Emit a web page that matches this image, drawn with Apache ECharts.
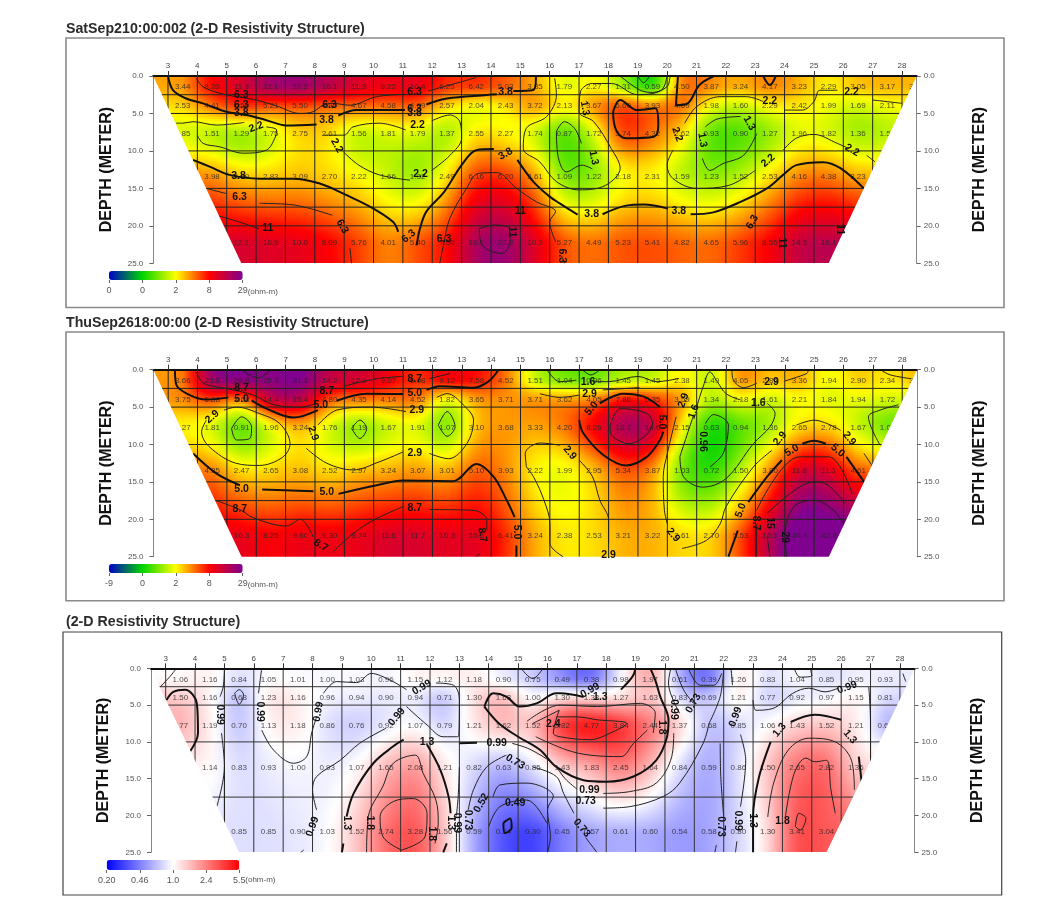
<!DOCTYPE html>
<html><head><meta charset="utf-8">
<script src="https://cdn.jsdelivr.net/npm/echarts@6/dist/echarts.min.js"></script>
<style>html,body{margin:0;padding:0;background:#fff}#chart{width:1047px;height:908px;filter:blur(0.45px)}</style>
</head><body><div id="chart"></div>
<script>
// ---------- shared categories and tick labels ----------
const electrodeLabels = [3,4,5,6,7,8,9,10,11,12,13,14,15,16,17,18,19,20,21,22,23,24,25,26,27,28];
const rowDepths = [1.5, 4, 7.75, 13.5, 22.2];
const rowBandEdges = [0, 2.5, 5, 10, 17.5, 25];
const rowStartColumn = [3.5, 3.5, 3.5, 4.5, 5.5];
const edgeTop = [2.5, 28.5];
const edgeBottom = [5.5, 25.5];
const titles = ['SatSep210:00:002 (2-D Resistivity Structure)','ThuSep2618:00:00 (2-D Resistivity Structure)','(2-D Resistivity Structure)'];
const scaleLabels1 = ['0','0','2','8','29'];
const scaleLabels2 = ['-9','0','2','8','29'];
const scaleLabels3 = ['0.20','0.46','1.0','2.4','5.5'];
const gridDepths12 = [2.5,5,10,15,17.5,20];
const gridDepths3 = [2.5,5,10,17.5];

// ---------- panel 1 resistivity (ohm-m) ----------
const p1r1 = [3.44,8.20,11.8,21.1,22.2,16.1,11.3,9.22,10.4,6.25,6.42,5.03,3.35,1.79,2.27,1.31,0.59,4.50,3.87,3.24,4.17,3.23,2.29,3.05,3.17,3.12];
const p1r2 = [2.53,4.41,6.50,5.21,5.50,4.80,4.67,4.58,4.89,2.57,2.04,2.43,3.72,2.13,3.67,5.60,3.93,4.69,1.98,1.60,2.29,2.42,1.99,1.69,2.11];
const p1r3 = [1.85,1.51,1.29,1.75,2.75,2.61,1.56,1.81,1.79,1.37,2.55,2.27,1.74,0.87,1.72,5.74,4.32,2.62,0.93,0.90,1.27,1.96,1.82,1.36,1.54];
const p1r4 = [3.98,2.89,2.83,3.09,2.70,2.22,1.66,1.32,2.49,6.16,6.20,3.61,1.09,1.22,2.18,2.31,1.59,1.23,1.52,2.53,4.16,4.38,3.23];
const p1r5 = [12.1,10.9,10.0,8.09,5.76,4.01,5.40,7.50,19.1,22.2,10.9,5.27,4.49,5.23,5.41,4.82,4.65,5.96,8.55,14.5,16.1];
// ---------- panel 2 resistivity (ohm-m) ----------
const p2r1 = [3.66,23.8,28.8,25.7,31.1,14.2,12.9,9.07,6.08,9.12,7.58,4.52,1.51,1.04,0.96,1.45,1.45,2.38,1.49,4.05,2.85,3.36,1.94,2.90,2.34,3.10];
const p2r2 = [3.75,5.88,3.68,14.4,15.4,4.80,4.35,4.14,4.52,1.82,3.65,3.71,3.71,3.62,4.05,7.86,6.35,3.59,1.34,2.18,1.61,2.21,1.84,1.94,1.72];
const p2r3 = [2.27,1.81,0.91,1.96,3.24,1.76,1.19,1.67,1.91,1.07,3.10,3.68,3.33,4.20,8.26,18.2,14.6,2.15,0.63,0.94,1.36,2.65,2.78,1.67,1.02];
const p2r4 = [4.35,2.47,2.65,3.08,2.52,2.97,3.24,3.67,3.01,5.10,3.93,2.22,1.99,2.95,5.34,3.87,1.03,0.72,1.50,3.80,11.8,11.1,4.61];
const p2r5 = [10.3,8.25,9.60,9.30,9.74,11.6,11.7,10.3,10.5,6.41,3.24,2.38,2.53,3.21,3.22,2.61,2.70,5.53,16.1,45.4,42.9];
// ---------- panel 3 resistivity ratio ----------
const p3r1 = [1.06,1.16,0.84,1.05,1.01,1.00,1.03,0.96,1.15,1.12,1.18,0.90,0.75,0.49,0.38,0.98,1.97,0.61,0.39,1.26,0.83,1.04,0.85,0.95,0.93];
const p3r2 = [1.50,1.16,0.68,1.23,1.16,0.96,0.94,0.90,0.94,0.71,1.30,1.63,1.00,1.30,1.33,1.27,1.63,0.83,0.69,1.21,0.77,0.92,0.97,1.15,0.81];
const p3r3 = [1.77,1.19,0.70,1.13,1.18,0.86,0.76,0.92,1.07,0.79,1.21,1.62,1.52,3.82,4.77,3.84,2.44,1.37,0.68,0.85,1.06,1.43,1.52,1.21,0.65];
const p3r4 = [1.14,0.83,0.93,1.00,0.93,1.07,1.65,2.08,1.21,0.82,0.63,0.85,1.43,1.83,2.45,1.64,0.84,0.59,0.86,1.50,2.65,2.82,1.36];
const p3r5 = [0.85,0.85,0.90,1.03,1.52,2.74,3.28,1.56,0.59,0.34,0.30,0.45,0.57,0.61,0.60,0.54,0.58,0.80,1.30,3.41,3.04];

// ---------- contours: [electrode, depth] ----------
const p1Thick = [
 [[3,0],[3.17,1.87],[3.62,3],[4.19,3.65],[4.99,4.77],[5.67,5.2],[6.35,5.9],[7.03,6.6],[8.06,6.46]],
 [[8.8,5.3],[9.42,4.55],[10.2,4.55],[11.07,4.55]],
 [[11.8,3.8],[12.5,3],[13.85,2.54],[14.2,2.45]],
 [[14.76,2],[15.44,1.87],[15.53,0.3],[15.53,0]],
 [[3.85,11.2],[4.42,12.1],[5.1,13.2],[6.12,13.7],[7.26,13.7],[8.17,14.35],[9.08,15.9],[10,17.7],[10.67,19.5],[10.84,20.8]],
 [[11.47,22.6],[11.58,20.4],[11.8,18.1],[12.4,15.5],[13,11.9],[13.5,9.9],[14.1,9.76]],
 [[14.9,11.2],[15.44,14.1],[16,16.1],[16.34,17],[16.95,18.5]],
 [[17.8,18.45],[18.6,17.3],[19.2,17.15],[20.03,17.7]],
 [[20.8,18.45],[21.57,18.2],[22.5,16.8],[23.4,15],[23.95,13.2],[24.4,11.9],[25.3,11.5],[25.9,12.3],[26.7,15]],
 [[18.16,4.77],[18.4,3.2],[18.97,4.55],[19.6,4.3],[19.7,6.55],[19.55,8.1],[18.6,8.3],[18.26,7.2],[18.16,4.77]],
 [[20.37,0],[20.3,3.9],[20.7,3.65],[21.1,1.2],[21.6,0]],
 [[23.27,0],[23.5,1.2],[23.7,0]]
];
const p1Thin = [
 [[3.97,0.3],[4.19,1.43],[4.76,2.3],[5.33,2.76],[6,3.2],[6.7,4],[7.5,5],[7.94,4.77],[8.28,3.9],[8.6,3.65],[9.2,3.9],[10.1,2.76],[11.1,2.45]],
 [[11.86,2],[12.6,1.2],[13.5,0.2]],
 [[4.3,15],[4.99,15.7]],
 [[6.12,17],[7.26,17.2],[8.6,18.6]],
 [[4.65,18.6],[5.44,19.5],[6.1,20.4]],
 [[9.2,23],[9.25,25]],
 [[12.26,25],[12.38,22.6],[12.6,19],[13.17,15],[13.57,13],[14.2,12.9],[14.87,15],[15.55,16.8],[16.2,18.1],[16,19.5],[16.2,22.1]],
 [[16.4,24],[16.5,25]],
 [[13.6,20.4],[13.7,22.6],[14.36,23.7],[14.65,22.1],[14.65,20.4],[14.1,19.9],[13.6,20.4]],
 [[3.28,6.3],[3.5,6.3],[3.85,6.1],[4.65,6.55],[5.6,6.2]],
 [[4,7.9],[4.2,9],[4.76,9.45],[5.56,10.3],[6.35,9.9],[6.64,8.3],[6.7,7.2],[6.35,6.8]],
 [[8.3,7.9],[9,7.9],[9.3,6.8],[10.2,6.3],[11.1,7.2]],
 [[11.98,6],[12.6,5.2],[12.94,6.1],[13,8.3],[12.6,10.6],[11.98,12.6]],
 [[11.24,13.9],[10.2,13.2],[9.5,11.9],[8.97,10.1]],
 [[16.17,0.3],[16.23,2.5],[15.9,5.4],[15.2,7],[15.1,9.7],[15.66,11.45],[16.23,14.1],[17,15.2],[17.9,14.6],[18.4,12.3],[18.1,9.7],[17.5,6.1],[17,4.8],[17.05,2.1],[17.45,1],[18.1,1],[19,2.5],[19.8,1.9],[20,0]],
 [[16.23,7.4],[16.5,6.1],[16.85,7],[17.08,9]],
 [[17.45,12.4],[17.1,11.9],[16.57,12.8],[16.28,10.6],[16.23,7.4]],
 [[18.4,0],[19.07,1.87],[19.5,2.2],[20,1.4],[20.1,0]],
 [[19.0,0],[19.2,0.9],[19.4,0]],
 [[20.6,6.3],[21,4.1],[21.8,2.76],[22.7,2.76],[23.27,3.4]],
 [[24,4.55],[24.6,4.55],[25,3.4],[25.2,1.9],[25.8,1.9]],
 [[27,3.2],[28,3.65]],
 [[20.2,9.9],[20,11.9],[20.2,13.7],[21,15],[22.1,14.6],[23,12.6]],
 [[23.95,9.9],[24.4,8.3],[25,7.8],[25.8,9],[26.2,9.7]],
 [[26.8,10.6],[27.08,11.45]],
 [[21.3,6.8],[21.7,5.75],[22.5,5.4]],
 [[23.05,7.7],[22.6,10.6],[21.9,11.7],[21.45,12.6],[21.2,11]]
];
const p1Marks = [[5.5,2.6,'6.3'],[5.5,3.9,'6.3'],[5.5,4.9,'3.8'],[6,6.8,'2.2',-20],[8.4,5.9,'3.8'],[8.5,3.9,'6.3'],[11.4,2.2,'6.3'],[11.4,4.4,'6.3'],[11.4,4.9,'3.8'],[11.5,6.5,'2.2'],[14.5,2.2,'3.8'],[14.5,10.4,'3.8',-30],[8.75,9.3,'2.2',60],[5.4,13.3,'3.8'],[11.6,13.1,'2.2'],[5.44,16.2,'6.3'],[6.4,20.3,'11'],[8.94,20.1,'6.3',60],[11.2,21.4,'6.3',-40],[12.4,21.8,'6.3'],[15,18.1,'11'],[14.7,20.8,'11',90],[16.4,24,'6.3',90],[17.43,18.5,'3.8'],[20.4,18.1,'3.8'],[17.2,4.3,'1.3',80],[17.5,10.9,'1.3',80],[20.34,7.8,'2.2',70],[21.2,8.55,'1.3',80],[22.8,6.3,'1.3',60],[23.44,11.3,'2.2',-40],[23.5,3.4,'2.2'],[26.28,2.1,'2.2'],[26.3,9.9,'2.2',30],[23.9,22.3,'11',90],[22.9,19.5,'6.3',-60],[25.9,20.5,'11',90]];

const p2Thick = [
 [[3.23,0],[3.28,2.05],[3.74,3.4],[4.3,4],[5.05,3.7]],
 [[5.84,4.1],[6.35,5.2],[7.26,6.4],[8.1,5.4]],
 [[8.74,4.15],[9.76,3.2],[11,3.25]],
 [[11.8,2.7],[12.26,2.2],[13.4,2.4],[13.9,1.6],[14.25,0]],
 [[3.85,11.2],[4.65,13.9],[5.44,15.45]],
 [[6.2,16],[7.95,16.25]],
 [[8.8,16.6],[10.1,15.45],[11,14.8],[12.7,14.9],[13.5,12.6],[14.08,14.3],[14.53,17.45],[14.8,19.7]],
 [[14.86,23.5],[14.86,25]],
 [[17,6.75],[17.14,8.5],[17.82,11.4],[18.6,12.8],[19.3,11.65],[19.75,9.4],[19.86,8.3]],
 [[17.7,4.5],[18.5,3.2],[19.2,3.6],[19.75,5]],
 [[22.76,17.7],[23.4,14.3],[23.9,12.1]],
 [[24.6,9.9],[25,9.5],[25.4,9.9]],
 [[26.1,11.65],[26.7,15]],
 [[22.08,25],[22.4,21.5]]
];
const p2Thin = [
 [[3.97,0.3],[4.2,1.8],[5.1,2.6],[5.9,3.4],[6.6,4.7],[7.5,5],[8.05,4.5]],
 [[9,2.2],[10.1,1.2],[11,0.9]],
 [[11.9,1.2],[12.6,0.5]],
 [[5.5,0],[6.05,1.1],[6.5,0]],
 [[4.9,5.4],[5.33,5],[6.1,5.85],[6.8,7.2],[7.15,9.9],[6.9,11.7],[6.1,12.8],[5.3,12.5],[4.4,10.3],[4.14,8.3],[4.3,6.75]],
 [[8.1,7.4],[8.74,5.4],[9.9,5],[11.1,5.6]],
 [[12.15,3.7],[12.5,3.2],[13.05,4.7],[13.4,6.75],[13.17,9.9],[12.55,11.9],[11.9,11.2]],
 [[11,11],[10.2,12.3],[9.3,13.4],[8.4,12.5],[7.7,10.5]],
 [[5.16,7.86],[5.5,6.3],[5.84,7.66],[5.78,9.2],[5.33,9.4],[5.16,7.86]],
 [[9.25,7.86],[9.53,6.74],[9.76,7.86],[9.53,9.2],[9.25,7.86]],
 [[12.2,7.4],[12.5,5.6],[12.77,7.63],[12.5,8.9],[12.2,7.4]],
 [[4.6,17.45],[5.44,18.7],[5.9,19.8],[7.03,20.9],[7.5,20],[7.94,22.4]],
 [[8.6,24.4],[9.3,21.9],[10,20.1],[11,18.3]],
 [[11.9,18.7],[13.4,18.8],[13.85,20.1],[13.85,21.5]],
 [[13.5,25],[13.6,24.6]],
 [[15.2,13],[15.16,11.2],[15.67,9.8],[16.34,10.1]],
 [[17,12.1],[17.45,14.3],[17.7,17.45],[18,20.1],[18,23.2]],
 [[15.2,13],[15.44,14.3],[15.8,17.45],[16,20.6],[16,23.2],[16.45,25]],
 [[18.05,7.6],[18.4,5.2],[19.3,5.85],[19.5,7.2],[18.7,9.9],[18.1,8.75],[18.05,7.6]],
 [[15.9,0],[16.34,1.6],[16.9,1.4]],
 [[17.5,1.6],[18,1.6],[19,0.9],[19.64,1.6],[20.4,1.16]],
 [[15.66,3.2],[16.34,3.7],[17,3.4]],
 [[17.8,2.7],[19.05,2.4]],
 [[17.1,0],[17.4,0.7],[17.7,0]],
 [[20.3,6.3],[20,11.2],[19.86,14.3],[19.9,18.8],[20,20.6]],
 [[20.5,23.9],[21.34,22.8],[21.8,20.6],[22,18.3],[22.93,13],[23.56,10.8]],
 [[24.4,7.4],[25,6.75],[25.9,8.1]],
 [[26.7,11.2],[27,13]],
 [[22.2,0],[22.25,1.4],[22.6,2.4],[23.05,1.8]],
 [[24,1.5],[24.75,0.5],[24.8,0]],
 [[27.25,0],[27.6,0.7],[28.3,1.2]],
 [[20.43,11.6],[20.55,14.3],[21.2,15.7],[22,14.55],[22.93,9.9],[23.5,7.6],[23.67,5.85],[23.4,4.5]],
 [[22.5,4.05],[22,3.2],[21.7,1.6],[21.45,0.3],[21.2,2.5],[21,5]],
 [[20.9,6],[20.43,11.6]],
 [[21.3,7.2],[21.57,6],[22.08,7.4],[21.9,11.2],[21.45,13]],
 [[23.04,18.8],[24.5,11.65],[25.5,11.65],[26.3,16.6]],
 [[23.4,19.2],[24.75,15.2],[25.2,15],[26.05,17.9]],
 [[24.07,25],[24,22.4],[24.3,18.35],[25,17.45],[25.66,18.8],[26,20.6]],
 [[23.04,20.6],[23.04,25]],
 [[23.4,22.4],[23.5,25]],
 [[27.25,10.1],[26.85,6.3],[27.25,5.4],[27.87,4.7]]
];
const p2Marks = [[4.5,6.3,'2.9',-40],[5.5,2.5,'8.7'],[5.5,3.9,'5.0'],[5.5,15.9,'5.0'],[8.4,16.4,'5.0'],[5.44,18.7,'8.7'],[8.2,23.5,'8.7',30],[8.2,4.7,'5.0'],[8.4,2.9,'8.7'],[7.94,8.5,'2.9',70],[11.47,5.4,'2.9'],[11.4,1.3,'8.7'],[11.4,3.1,'5.0'],[11.4,11.1,'2.9'],[11.4,18.5,'8.7'],[13.7,22.1,'8.7',80],[14.86,21.7,'5.0',90],[16.68,11.1,'2.9',50],[17.3,1.6,'1.6'],[17.35,3.3,'2.9'],[17.42,5.2,'5.0',-50],[19.8,7,'5.0',90],[20.55,4.1,'2.9',-70],[20.9,5.6,'1.6',-70],[21.2,9.6,'0.96',90],[23.1,4.5,'1.6'],[20.2,22.1,'2.9',50],[18,24.8,'2.9'],[22.5,18.8,'5.0',-70],[23.84,9.2,'2.9',-50],[24.24,10.8,'5.0',-30],[25.8,10.8,'5.0',40],[26.2,9.2,'2.9',50],[23.0,20.5,'8.7',90],[23.5,20.5,'15',90],[24,22.4,'29',90],[23.55,1.6,'2.9']];

const p3Thick = [
 [[3.03,4.3],[3.26,3.2],[3.66,2.9],[4.06,4.76],[4.1,8.8],[3.83,11.3]],
 [[9.16,20.15],[9.4,17],[10.07,12.9],[10.75,10.6],[11.1,9.7]],
 [[11.9,10.4],[12.35,13.8],[12.63,17.4],[12.7,19.7]],
 [[12.57,23.8],[12.45,25]],
 [[9.05,23.8],[9,25]],
 [[13,10.2],[13.6,10.1]],
 [[13.85,5.2],[14.15,3.4],[14.6,3.85],[15.05,5.2],[15.63,4.76],[16.3,3.4],[16.43,3.4],[17.23,3.9]],
 [[13.85,5.2],[14.35,7.5],[15,9.3],[15.75,11.1],[16.3,13.4],[17.23,15.2],[18,15.4],[18.93,14.7],[19.7,12.5],[20.07,9.3],[20.12,7],[19.84,3.85],[19.67,1.6],[19.5,0]],
 [[18.5,2.9],[18.9,1.1],[19,0]],
 [[23,25],[23,20.2],[23.2,14.8],[23.6,10]],
 [[24.28,7.3],[25.1,6.3],[26,7]],
 [[26.6,12],[26.7,15.6]],
 [[14.5,21],[14.73,20.4],[14.78,21.7],[14.55,22.4],[14.5,21]]
];
const p3Thin = [
 [[2.8,2.6],[3.15,1.1],[3.37,0]],
 [[5,0],[4.96,2.5],[4.85,3.85]],
 [[4.9,8.8],[5,13.4],[4.74,18.8]],
 [[5,13.4],[5,21]],
 [[6.27,0],[6.16,3.4]],
 [[6.27,8.4],[6.67,11.1],[7.35,12.9],[7.8,12],[7.97,8.8],[8.14,6.6]],
 [[8.37,3.4],[8.82,1.8],[9.5,1.95],[10,0.7],[10.64,1.6],[11.2,2.9]],
 [[12.2,2],[12.8,2.3],[13,4.3],[12.96,9.3],[12.45,9.3],[11.9,7.7],[11.2,5.2]],
 [[10.5,8.15],[9.6,10.2],[8.94,12.5],[8.14,14.7],[8,16.5],[8.14,19.25]],
 [[7.7,24.7],[7.6,25]],
 [[9.84,25],[9.9,20.15],[10.4,16],[10.75,12.9],[11.5,11.8],[11.77,14.3],[12.2,17.9],[12.28,21],[12.17,23.8]],
 [[11.03,24.7],[10.4,22.9],[10.3,20.15],[10.75,18.1],[11.43,17.7],[11.9,19.7],[11.83,22.9],[11.03,24.7]],
 [[13,13.4],[12.96,17.4],[12.9,20]],
 [[12.9,22],[12.9,25]],
 [[13.3,19.25],[13.48,16.5],[13.93,13.4],[14.6,11.8]],
 [[15.5,13.4],[16.3,14.7],[16.55,17],[16.9,19.7]],
 [[17.3,23],[17.68,25]],
 [[14.15,17.4],[14.38,15.85],[15.3,15.6],[16.2,17.4],[16,19.25],[16.1,22.9],[16,25]],
 [[14,21.5],[14.38,18.8],[15.3,17.9],[15.97,21]],
 [[15.5,7.5],[16.4,5.7],[16.2,8.8],[16.43,9.3],[17.45,9.7],[18.14,8.8],[18.7,7.5],[17.7,7],[17,6.6],[16.3,6.6]],
 [[15.6,9.3],[16.66,11.1],[17.45,11.8],[18.5,12],[18.93,10.2],[19.4,8.4]],
 [[15.3,7.2],[16.43,5],[17.7,5.2],[19.16,4.76],[19.67,6.1],[19.6,8.8]],
 [[17.9,17],[18.8,16.75],[19.7,15.6],[20.23,12],[20.3,8.8]],
 [[20.5,6.1],[20.12,2],[20.2,0]],
 [[14.8,10.2],[15.4,11],[16.2,13],[16.6,15],[17,16.4]],
 [[17.9,19],[18.8,18.8],[19.95,17.4],[20.5,15.6],[21.3,10.2],[21.5,7.5]],
 [[20.97,4.76],[20.63,2.9],[20.35,0]],
 [[22,0],[21.88,3.85],[21.5,7.5]],
 [[21.88,10.2],[21.9,14.7],[22,20.15]],
 [[21.7,25],[21.75,24]],
 [[20.8,0],[21.2,2.3],[21.66,2.3],[21.93,0.7]],
 [[22.25,0],[22.3,2.3]],
 [[23,4.3],[23.1,5.7],[23.68,5.45],[24.35,3.4],[24.9,2.7],[25.45,3.2],[25.9,2.7]],
 [[26.94,2.5],[27,7.5],[27,12.2]],
 [[22.57,9],[22.75,12.5],[22.57,18.8]],
 [[22.4,25],[22.45,23.5]],
 [[23.5,20.2],[23.7,15.6],[24.2,11.1],[24.9,9.5],[25.8,10],[26.35,12.5],[26.45,16.5]],
 [[24.1,20.2],[24.4,14.3],[24.8,12.2],[25.1,12.7],[25.5,12.5],[25.65,16.5],[25.8,19.7]],
 [[24.44,21.5],[24.56,19.7],[24.8,20.4],[24.6,22],[24.44,21.5]],
 [[5.35,3.4],[5.5,2.9],[5.65,3.6],[5.5,4.9],[5.35,3.4]],
 [[15.1,0],[15.5,1.4],[15.85,0]],
 [[24.4,0],[24.6,1.2],[25,1],[24.95,0]],
 [[28.1,0.7],[28.2,1.8]]
];
const p3Marks = [[4.85,6.3,'0.99',90],[6.2,5.9,'0.99',90],[8.2,5.9,'0.99',-80],[10.87,6.6,'0.99',-50],[11.72,2.6,'0.99',-30],[14.27,10.2,'0.99'],[14.9,12.7,'0.73',30],[8,21.5,'0.99',-70],[9.16,21,'1.3',90],[9.95,21,'1.8',90],[11.9,10,'1.3'],[12.7,21,'1.3',90],[12.05,22.5,'1.8',90],[12.9,21,'0.99',90],[13.3,20.6,'0.73',90],[13.75,18.3,'0.52',-60],[14.9,18.3,'0.49'],[17.17,21.7,'0.73',50],[17.43,16.5,'0.99'],[17.3,18,'0.73'],[17.8,3.9,'1.3'],[16.2,7.6,'2.4'],[17.45,3,'0.99',-30],[20.3,5.6,'0.99',90],[20.97,4.76,'0.73',-60],[19.9,8,'1.8',90],[21.9,21.5,'0.73',90],[22.4,6.6,'0.99',-70],[22.5,20.7,'0.99',90],[23,20.7,'1.3',90],[23.9,8.4,'1.3',-50],[24,20.7,'1.8'],[26.3,9.3,'1.3',50],[26.2,2.6,'0.99',-20]];

// ---------- colour scales ----------
const ramp12 = ['#0000c8','#00d400','#ffff00','#ff0000','#800090'];
const ramp3 = ['#0000ff','#ffffff','#ff0000'];
const scaleMin12 = 0.16, scaleMax12 = 29, scaleMin3 = 0.20, scaleMax3 = 5.5;

// ---------- layout ----------
const panels = [
 {rows:[p1r1,p1r2,p1r3,p1r4,p1r5], thick:p1Thick, thin:p1Thin, marks:p1Marks, ramp:ramp12, min:scaleMin12, max:scaleMax12, depths:gridDepths12, ticks:scaleLabels1,
  grid:{left:153.3,top:76,width:763.4,height:187.3}, frame:[66,38,938,269.5], frameColor:'#8a8a8a', frameW:1.6, titleTop:22, bar:[109,271,133.7,9], nameGap:[39,55]},
 {rows:[p2r1,p2r2,p2r3,p2r4,p2r5], thick:p2Thick, thin:p2Thin, marks:p2Marks, ramp:ramp12, min:scaleMin12, max:scaleMax12, depths:gridDepths12, ticks:scaleLabels2,
  grid:{left:153.5,top:369.7,width:763.4,height:187}, frame:[66,332,938,268.7], frameColor:'#8a8a8a', frameW:1.6, titleTop:316.5, bar:[109,564,133.7,9], nameGap:[39,55]},
 {rows:[p3r1,p3r2,p3r3,p3r4,p3r5], thick:p3Thick, thin:p3Thin, marks:p3Marks, ramp:ramp3, min:scaleMin3, max:scaleMax3, depths:gridDepths3, ticks:scaleLabels3,
  grid:{left:151,top:668.3,width:763.6,height:184}, frame:[63,632,938.7,263], frameColor:'#444', frameW:1.2, titleTop:615.5, bar:[106.7,860,132.6,10], nameGap:[39,55]}
];

// ---------- helpers ----------
function hermite(xs, ys, x) {
  const n = xs.length;
  if (x <= xs[0]) return ys[0];
  if (x >= xs[n-1]) return ys[n-1];
  let i = 0; while (x > xs[i+1]) i++;
  const h = xs[i+1]-xs[i], s = (x-xs[i])/h;
  const m0 = i>0 ? (ys[i+1]-ys[i-1])/(xs[i+1]-xs[i-1]) : (ys[1]-ys[0])/h;
  const m1 = i<n-2 ? (ys[i+2]-ys[i])/(xs[i+2]-xs[i]) : (ys[n-1]-ys[n-2])/h;
  const s2=s*s, s3=s2*s;
  return (2*s3-3*s2+1)*ys[i]+(s3-2*s2+s)*h*m0+(-2*s3+3*s2)*ys[i+1]+(s3-s2)*h*m1;
}
function scaleT(v, p){ return Math.log(v/p.min)/Math.log(p.max/p.min); }
function buildField(p){
  return p.rows.map((r,ri)=>({xs:r.map((_,i)=>rowStartColumn[ri]+i), ts:r.map(v=>scaleT(v,p))}));
}
function sample1(field,x,d){
  const vals = field.map(f=>hermite(f.xs,f.ts,x));
  return hermite(rowDepths,vals,d);
}
function sampleT(field,x,d){
  // soft shading kernel, as the source's gridded colours are smoother than its cell values
  const t=(sample1(field,x,d)*2+sample1(field,x-0.5,d)+sample1(field,x+0.5,d)+sample1(field,x,d-1)+sample1(field,x,d+1))/6;
  return Math.max(0,Math.min(1,t));
}
function fmt(v){ return v<10 ? v.toFixed(2) : v.toFixed(1); }

// ---------- build option ----------
const grid=[], xAxis=[], yAxis=[], series=[], visualMap=[], title=[], graphicEls=[];
panels.forEach((p,pi)=>{
  grid.push(Object.assign({containLabel:false},p.grid));
  title.push({text:titles[pi],left:66,top:p.titleTop,padding:0,textStyle:{fontFamily:'Liberation Sans',fontSize:14.2,fontWeight:'bold',color:'#2b2b2b'}});
  graphicEls.push({type:'rect',z:-1,shape:{x:p.frame[0],y:p.frame[1],width:p.frame[2],height:p.frame[3]},style:{fill:'#fff',stroke:p.frameColor,lineWidth:p.frameW}});
  xAxis.push({gridIndex:pi,type:'value',position:'top',min:edgeTop[0],max:edgeTop[1],z:10,splitLine:{show:false},
    axisLine:{show:true,onZero:false,lineStyle:{color:'#111',width:2}},
    axisTick:{show:true,length:5,customValues:electrodeLabels,lineStyle:{color:'#333'}},
    axisLabel:{customValues:electrodeLabels,margin:6,fontSize:8,fontFamily:'Liberation Sans',color:'#444'}});
  [['left',0],['right',1]].forEach(([pos,k])=>{
    yAxis.push({gridIndex:pi,type:'value',position:pos,inverse:true,min:0,max:25,interval:5,z:10,splitLine:{show:false},
      axisLine:{show:true,onZero:false,lineStyle:{color:'#888',width:1}},axisTick:{show:true,length:4,lineStyle:{color:'#666'}},
      axisLabel:{margin:k?7:10,fontSize:8,fontFamily:'Liberation Sans',color:'#555',formatter:v=>v.toFixed(1)},
      name:'DEPTH (METER)',nameLocation:'middle',nameRotate:90,nameGap:p.nameGap[k],
      nameTextStyle:{fontFamily:'Liberation Sans',fontSize:16,fontWeight:'bold',color:'#111'}});
  });
});
panels.forEach((p,pi)=>{
  const [l,t,w,h]=p.bar;
  grid.push({left:l,top:t,width:w,height:h});
  xAxis.push({gridIndex:3+pi,type:'value',position:'bottom',min:0,max:4,interval:1,splitLine:{show:false},
    axisLine:{show:false},axisTick:{show:true,length:3,lineStyle:{color:'#666'}},
    axisLabel:{margin:6,fontSize:9,fontFamily:'Liberation Sans',color:'#555',formatter:v=>p.ticks[v]}});
  yAxis.push({gridIndex:3+pi,type:'value',show:false,min:0,max:1});
  graphicEls.push({type:'text',style:{x:l+w+(pi==2?6:5),y:t+h+(pi==2?10:12),text:'(ohm-m)',fontFamily:'Liberation Sans',fontSize:8,fill:'#555',textVerticalAlign:'middle'}});
});

panels.forEach((p,pi)=>{
  const yi=pi*2, field=buildField(p);
  const cells=[];
  p.rows.forEach((r,ri)=>r.forEach((v,i)=>{
    const xc=rowStartColumn[ri]+i;
    cells.push([xc,rowDepths[ri],v,scaleT(v,p),
      i===0?edgeTop[0]:xc-0.5, i===r.length-1?edgeTop[1]:xc+0.5, rowBandEdges[ri], rowBandEdges[ri+1]]);
  }));
  visualMap.push({type:'continuous',seriesIndex:series.length,dimension:3,min:0,max:1,calculable:false,hoverLink:false,
    orient:'horizontal',left:p.bar[0],top:p.bar[1],itemWidth:p.bar[3],itemHeight:p.bar[2],padding:0,text:null,inRange:{color:p.ramp}});
  series.push({type:'custom',xAxisIndex:pi,yAxisIndex:yi,z:1,silent:true,animation:false,clip:true,progressive:0,
    encode:{x:0,y:1},data:cells,
    renderItem(params,api){
      const xa=api.value(4),xb=api.value(5),da=api.value(6),db=api.value(7);
      const a=api.coord([xa,da]),b=api.coord([xb,db]);
      const X0=Math.round(a[0]),X1=Math.round(b[0]),Y0=Math.round(a[1]),Y1=Math.round(b[1]);
      const kids=[];
      for(let y=Y0;y<Y1;y+=2){
        const hh=Math.min(2,Y1-y), d=da+(y+hh/2-a[1])/(b[1]-a[1])*(db-da);
        const stops=[];
        for(let s=0;s<=6;s++){
          const f=s/6, t=sampleT(field,xa+f*(xb-xa),d);
          stops.push({offset:f,color:echarts.color.lerp(t,p.ramp)});
        }
        kids.push({type:'rect',shape:{x:X0,y,width:X1-X0,height:hh},
          style:{fill:new echarts.graphic.LinearGradient(X0,0,X1,0,stops,true)}});
      }
      return {type:'group',children:kids};
    }});
  const lines=electrodeLabels.map(x=>[x,null]).concat(p.depths.map(d=>[null,d]));
  series.push({type:'custom',xAxisIndex:pi,yAxisIndex:yi,z:2,silent:true,animation:false,clip:true,data:lines,
    encode:{x:0,y:1},
    renderItem(params,api){
      const x=api.value(0),d=api.value(1);
      const A=isNaN(d)?api.coord([x,0]):api.coord([edgeTop[0],d]);
      const B=isNaN(d)?api.coord([x,25]):api.coord([edgeTop[1],d]);
      return {type:'line',shape:{x1:A[0],y1:A[1],x2:B[0],y2:B[1]},style:{stroke:pi==2?'#333':'#222',lineWidth:1}};
    }});
  series.push({type:'scatter',xAxisIndex:pi,yAxisIndex:yi,z:3,silent:true,animation:false,symbolSize:1,itemStyle:{color:'transparent'},
    data:cells.map(c=>[c[0],c[1],c[2]]),
    labelLayout:{hideOverlap:false},
    label:{show:true,position:'inside',fontSize:8,fontFamily:'Liberation Sans',color:'#262626',formatter:o=>fmt(o.value[2])}});
  p.thick.forEach(c=>series.push({type:'line',xAxisIndex:pi,yAxisIndex:yi,z:4,silent:true,animation:false,data:c,showSymbol:false,smooth:0.35,
    lineStyle:{color:'#111',width:2}}));
  p.thin.forEach(c=>series.push({type:'line',xAxisIndex:pi,yAxisIndex:yi,z:4,silent:true,animation:false,data:c,showSymbol:false,smooth:0.35,
    lineStyle:{color:'#222',width:1}}));
  series.push({type:'custom',xAxisIndex:pi,yAxisIndex:yi,z:5,silent:true,animation:false,clip:false,data:[0,1].map(k=>[edgeTop[k],edgeBottom[k]]),
    encode:{x:0},
    renderItem(params,api){
      const top=api.value(0),bot=api.value(1),side=params.dataIndex?edgeTop[1]+0.6:edgeTop[0]-0.02;
      const pts=[[top,0.05],[bot,25],[bot,25.35],[side,25.35],[side,0.05]].map(q=>api.coord(q));
      return {type:'polygon',shape:{points:pts},style:{fill:'#fff'}};
    }});
  series.push({type:'custom',xAxisIndex:pi,yAxisIndex:yi,z:6,silent:true,animation:false,clip:false,
    data:p.marks.map(m=>[m[0],m[1],m[3]||0]),encode:{x:0,y:1},
    renderItem(params,api){
      const c=api.coord([api.value(0),api.value(1)]);
      return {type:'text',x:c[0],y:c[1],rotation:-api.value(2)*Math.PI/180,
        style:{text:p.marks[params.dataIndex][2],fontFamily:'Liberation Sans',fontSize:10.5,fontWeight:'bold',fill:'#111',align:'center',verticalAlign:'middle'}};
    }});
});

const chart=echarts.init(document.getElementById('chart'),null,{width:1047,height:908});
chart.setOption({backgroundColor:'#fff',animation:false,title,grid,xAxis,yAxis,visualMap,series,graphic:{elements:graphicEls}});
</script></body></html>
